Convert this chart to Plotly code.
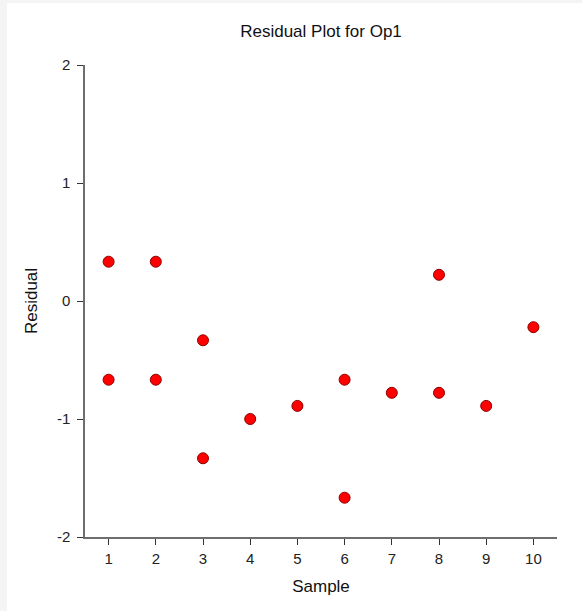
import plotly.graph_objects as go

samples = [1, 1, 2, 2, 3, 3, 4, 5, 6, 6, 7, 8, 8, 9, 10]
residuals = [0.333, -0.667, 0.333, -0.667, -0.333, -1.333, -1.0, -0.889,
             -0.667, -1.667, -0.778, 0.222, -0.778, -0.889, -0.222]
x_ticks = [1, 2, 3, 4, 5, 6, 7, 8, 9, 10]
y_ticks = [-2, -1, 0, 1, 2]
y_tick_text = ["-2", "-1", "0", "1", "2"]

FONT = "Arial, Liberation Sans, sans-serif"

fig = go.Figure()
fig.add_trace(go.Scatter(
    x=samples, y=residuals, mode="markers",
    marker=dict(color="#ff0000", size=11, line=dict(color="#8b0000", width=1)),
    showlegend=False, cliponaxis=False,
))

L, R, T, B = 85, 25, 65, 74
W, H = 582, 611
pw, ph = W - L - R, H - T - B

def px(xp):
    return (xp - L) / pw

def py(yp):
    return (H - B - yp) / ph

fig.add_shape(type="rect", xref="paper", yref="paper",
              x0=px(0), x1=px(7), y0=py(H), y1=py(0),
              fillcolor="#f4f4f4", line=dict(width=0), layer="below")
fig.add_shape(type="rect", xref="paper", yref="paper",
              x0=px(0), x1=px(W), y0=py(3), y1=py(0),
              fillcolor="#f4f4f4", line=dict(width=0), layer="below")

axis_common = dict(showgrid=False, zeroline=False, showline=True,
                   linecolor="#6e6e6e", linewidth=1.5, ticks="outside",
                   tickcolor="#333333", tickwidth=1, ticklen=6,
                   tickfont=dict(family=FONT, size=15, color="#222222"))

fig.update_layout(
    width=W, height=H,
    margin=dict(l=L, r=R, t=T, b=B),
    paper_bgcolor="white", plot_bgcolor="white",
    title=dict(text="Residual Plot for Op1", x=0.5, xanchor="center",
               xref="paper",
               y=1 - 31 / H, yanchor="middle",
               font=dict(family=FONT, size=17, color="#111111")),
    xaxis=dict(range=[0.5, 10.5], tickvals=x_ticks, ticklabelstandoff=1,
               title=dict(text="Sample", standoff=14,
                          font=dict(family=FONT, size=17, color="#111111")),
               **axis_common),
    yaxis=dict(range=[-2, 2], tickvals=y_ticks, ticktext=y_tick_text,
               ticklabelstandoff=4,
               title=dict(text="Residual", standoff=15,
                          font=dict(family=FONT, size=17, color="#111111")),
               **axis_common),
)

fig.write_html("out.html", config={"displayModeBar": False},
               post_script="document.body.style.margin='0';")
